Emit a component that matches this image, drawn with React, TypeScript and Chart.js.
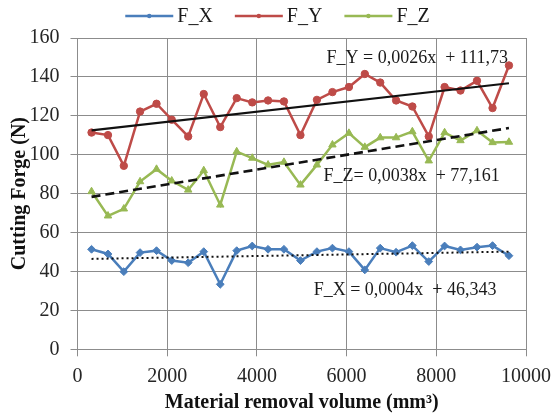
import React, { useEffect, useRef } from "react";
import { Chart, registerables } from "chart.js";

Chart.register(...registerables);

const volumes = [313, 680, 1033, 1395, 1762, 2101, 2468, 2815, 3183, 3550, 3896, 4249, 4603, 4971, 5338, 5684, 6052, 6406, 6750, 7104, 7466, 7832, 8185, 8539, 8907, 9254, 9620];
const forceX = [51.4, 49, 39.9, 49.7, 50.7, 45.6, 44.5, 50.2, 33.4, 50.7, 53.1, 51.4, 51.4, 45.6, 50.2, 52, 50.2, 40.8, 52, 49.9, 53.3, 45.1, 53.1, 51.1, 52.5, 53.3, 48.1];
const forceY = [111.4, 110.1, 94.3, 122.2, 126.2, 118, 109.4, 131.2, 114.2, 129.1, 126.9, 127.9, 127.4, 110.1, 128.2, 132.2, 134.8, 141.5, 137.1, 127.9, 124.8, 109.4, 134.8, 133, 138, 124, 145.9];
const forceZ = [81.1, 68.6, 72.2, 86.2, 92.6, 86.6, 81.9, 91.9, 74.2, 101.6, 98.3, 94.8, 96.2, 84.5, 94.8, 105.1, 111.1, 103.9, 108.8, 108.8, 111.9, 96.9, 111.4, 107.3, 112.4, 106.3, 106.5];

const seriesNames = ["F_X", "F_Y", "F_Z"];
const seriesColors = ["#4A7EBB", "#BE4B48", "#98B954"];
const seriesMarkers = ["rectRot", "circle", "triangle"];
const seriesRadius = [3.9, 3.7, 4.3];

// trendline coefficients (slope, intercept) and equation labels
const trendSlopes = [0.0004, 0.0026, 0.0038];
const trendIntercepts = [46.343, 111.73, 77.161];
const trendLabels = ["F_X = 0,0004x  + 46,343", "F_Y = 0,0026x  + 111,73", "F_Z= 0,0038x  + 77,161"];
const trendDash = [[2, 3], [], [9, 5]];
const trendWidth = [2, 2.2, 2.6];

const xTickValues = [0, 2000, 4000, 6000, 8000, 10000];
const yTickValues = [0, 20, 40, 60, 80, 100, 120, 140, 160];

const xTitle = "Material removal volume (mm³)";
const yTitle = "Cutting Forge (N)";

const SERIF = "'Liberation Serif', 'Times New Roman', serif";

export default function App() {
  const ref = useRef<HTMLCanvasElement | null>(null);

  useEffect(() => {
    const canvas = ref.current;
    if (!canvas) return;
    const series = [forceX, forceY, forceZ];
    const dataSets: any[] = [];
    series.forEach((vals, i) => {
      dataSets.push({
        label: seriesNames[i],
        data: vals.map((v, k) => ({ x: volumes[k], y: v })),
        showLine: true,
        borderColor: seriesColors[i],
        backgroundColor: seriesColors[i],
        borderWidth: 2.5,
        pointStyle: seriesMarkers[i],
        pointRadius: seriesRadius[i],
        pointBorderWidth: 1,
        order: 1,
      });
    });
    const x0 = volumes[0];
    const x1 = volumes[volumes.length - 1];
    series.forEach((_, i) => {
      dataSets.push({
        label: "trend " + seriesNames[i],
        data: [
          { x: x0, y: trendSlopes[i] * x0 + trendIntercepts[i] },
          { x: x1, y: trendSlopes[i] * x1 + trendIntercepts[i] },
        ],
        showLine: true,
        borderColor: "#111",
        borderWidth: trendWidth[i],
        borderDash: trendDash[i],
        pointRadius: 0,
        order: 0,
      });
    });

    const labelPos = [
      { x: 5265, y: 30.5 },
      { x: 5552, y: 149.8 },
      { x: 5486, y: 89.1 },
    ];

    const overlay = {
      id: "overlay",
      afterDatasetsDraw(chart: any) {
        const ctx = chart.ctx;
        const xs = chart.scales.x;
        const ys = chart.scales.y;
        ctx.save();
        ctx.font = "18px " + SERIF;
        ctx.fillStyle = "#1a1a1a";
        ctx.textAlign = "left";
        ctx.textBaseline = "middle";
        trendLabels.forEach((t, i) => {
          ctx.fillText(t, xs.getPixelForValue(labelPos[i].x), ys.getPixelForValue(labelPos[i].y));
        });
        // legend
        ctx.font = "20px " + SERIF;
        const lineLen = 48;
        const gapText = 4;
        const gapItem = 22;
        const widths = seriesNames.map((n) => ctx.measureText(n).width);
        const total = widths.reduce((a, w) => a + lineLen + gapText + w, 0) + gapItem * (seriesNames.length - 1);
        let lx = chart.width / 2 - 2 - total / 2;
        const ly = 16;
        seriesNames.forEach((n, i) => {
          ctx.strokeStyle = seriesColors[i];
          ctx.lineWidth = 2.5;
          ctx.beginPath();
          ctx.moveTo(lx, ly);
          ctx.lineTo(lx + lineLen, ly);
          ctx.stroke();
          ctx.fillStyle = seriesColors[i];
          ctx.beginPath();
          ctx.arc(lx + lineLen / 2, ly, 2.2, 0, Math.PI * 2);
          ctx.fill();
          ctx.fillStyle = "#1a1a1a";
          ctx.textAlign = "left";
          ctx.fillText(n, lx + lineLen + gapText, ly + 1);
          lx += lineLen + gapText + widths[i] + gapItem;
        });
        ctx.restore();
      },
    };

    const chart = new Chart(canvas, {
      type: "scatter",
      data: { datasets: dataSets },
      options: {
        animation: false,
        responsive: false,
        devicePixelRatio: 1,
        layout: { padding: { top: 38, right: 28, bottom: 0, left: 0 } },
        plugins: { legend: { display: false }, tooltip: { enabled: false } },
        scales: {
          x: {
            type: "linear",
            min: 0,
            max: 10000,
            afterFit: (s: any) => { s.height = 67.7; },
            afterBuildTicks: (s: any) => { s.ticks = xTickValues.map((v) => ({ value: v })); },
            ticks: {
              color: "#262626",
              font: { family: SERIF, size: 20 },
              padding: 8,
              maxRotation: 0,
              callback: (v: any) => String(v),
            },
            grid: { color: "#8c8c8c", lineWidth: 1, tickLength: 7, tickColor: "#8c8c8c" },
            border: { color: "#8c8c8c", width: 1 },
            title: {
              display: true,
              text: xTitle,
              color: "#111",
              font: { family: SERIF, size: 20, weight: "bold" },
              padding: { top: 0, bottom: 2 },
            },
          },
          y: {
            type: "linear",
            min: 0,
            max: 160,
            afterFit: (s: any) => { s.width = 77.5; },
            afterBuildTicks: (s: any) => { s.ticks = yTickValues.map((v) => ({ value: v })); },
            ticks: {
              color: "#262626",
              font: { family: SERIF, size: 20 },
              padding: 11,
              callback: (v: any) => String(v),
            },
            grid: { color: "#8c8c8c", lineWidth: 1, tickLength: 7, tickColor: "#8c8c8c" },
            border: { color: "#8c8c8c", width: 1 },
            title: {
              display: true,
              text: yTitle,
              color: "#111",
              font: { family: SERIF, size: 20, weight: "bold" },
              padding: { top: 8, bottom: 0 },
            },
          },
        },
      },
      plugins: [overlay],
    } as any);
    return () => chart.destroy();
  }, []);

  return (
    <div style={{ position: "absolute", left: 0, top: 0, width: 559, height: 417, background: "#fff" }}>
      <canvas ref={ref} width={559} height={417} style={{ display: "block" }} />
    </div>
  );
}
